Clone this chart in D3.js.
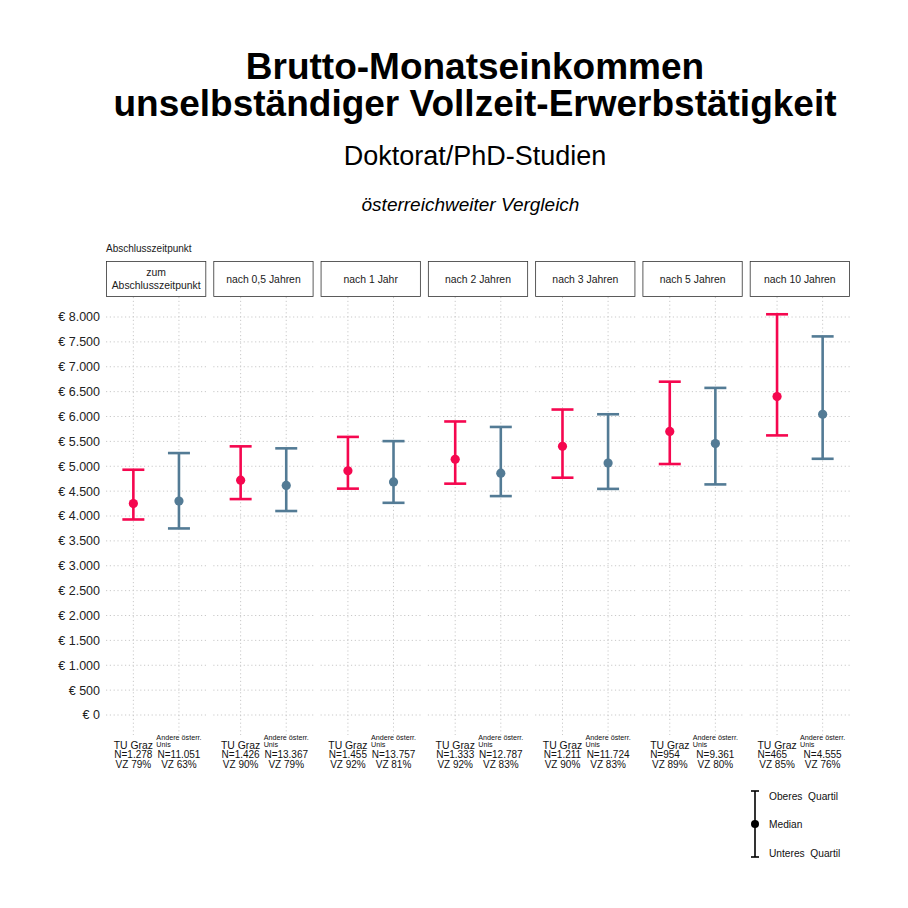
<!DOCTYPE html>
<html>
<head>
<meta charset="utf-8">
<script src="https://cdn.jsdelivr.net/npm/d3@7"></script>
<style>
  html, body { margin: 0; padding: 0; background: #fff; }
  svg { display: block; font-family: "Liberation Sans", Arial, sans-serif; }
</style>
</head>
<body>
<svg id="chart" width="908" height="908"></svg>
<script>
// ---- data ----
const zeitpunkte = ["zum\nAbschlusszeitpunkt", "nach 0,5 Jahren", "nach 1 Jahr", "nach 2 Jahren", "nach 3 Jahren", "nach 5 Jahren", "nach 10 Jahren"];
const gruppen = ["TU Graz", "Andere österr. Unis"];
const tuMedian = [4250, 4720, 4910, 5140, 5400, 5700, 6400];
const tuQ1     = [3930, 4340, 4550, 4650, 4770, 5045, 5620];
const tuQ3     = [4930, 5400, 5590, 5900, 6140, 6700, 8055];
const andMedian = [4300, 4615, 4685, 4860, 5065, 5455, 6045];
const andQ1     = [3750, 4100, 4265, 4400, 4545, 4635, 5150];
const andQ3     = [5265, 5360, 5505, 5790, 6045, 6575, 7610];
const tuN  = ["1.278", "1.426", "1.455", "1.333", "1.211", "954", "465"];
const tuVZ = [79, 90, 92, 92, 90, 89, 85];
const andN  = ["11.051", "13.367", "13.757", "12.787", "11.724", "9.361", "4.555"];
const andVZ = [63, 79, 81, 83, 83, 80, 76];
const yTicks = d3.range(0, 8001, 500);
const farben = ["#f5074f", "#537b95"];

// ---- layout ----
const svg = d3.select("#chart");
const panelTop = 297, panelBottom = 735;
const stripTop = 261, stripBottom = 297;

const deLocale = d3.formatLocale({decimal: ",", thousands: ".", grouping: [3], currency: ["€ ", ""]});
const fmtEuro = v => "€ " + deLocale.format(",")(v);

const xPanel = d3.scaleBand().domain(d3.range(zeitpunkte.length)).range([106, 850]).paddingInner(0.065);
const xIn = d3.scalePoint().domain(gruppen).range([0, xPanel.bandwidth()]).padding(0.6);
const y = d3.scaleLinear().domain([0, 8000]).range([715, 317]);

// titles
svg.append("text").attr("x", 475).attr("y", 79).attr("text-anchor", "middle")
  .attr("font-size", 37).attr("font-weight", "bold").text("Brutto-Monatseinkommen");
svg.append("text").attr("x", 475).attr("y", 116).attr("text-anchor", "middle")
  .attr("font-size", 37).attr("font-weight", "bold").text("unselbständiger Vollzeit-Erwerbstätigkeit");
svg.append("text").attr("x", 475).attr("y", 165).attr("text-anchor", "middle")
  .attr("font-size", 27).text("Doktorat/PhD-Studien");
svg.append("text").attr("x", 470.5).attr("y", 211).attr("text-anchor", "middle")
  .attr("font-size", 19).attr("font-style", "italic").text("österreichweiter Vergleich");

svg.append("text").attr("x", 106).attr("y", 252).attr("font-size", 10).attr("fill", "#1a1a1a")
  .text("Abschlusszeitpunkt");

// y axis labels
svg.append("g").selectAll("text").data(yTicks).join("text")
  .attr("x", 100).attr("y", d => y(d)).attr("dy", "0.35em")
  .attr("text-anchor", "end").attr("font-size", 12.5).attr("fill", "#222")
  .text(fmtEuro);

// panels
const rows = zeitpunkte.map((z, i) => ({
  i, z,
  g: [
    {name: gruppen[0], med: tuMedian[i], q1: tuQ1[i], q3: tuQ3[i], n: tuN[i], vz: tuVZ[i], col: farben[0]},
    {name: gruppen[1], med: andMedian[i], q1: andQ1[i], q3: andQ3[i], n: andN[i], vz: andVZ[i], col: farben[1]}
  ]
}));

const panels = svg.append("g").selectAll("g.panel").data(rows).join("g")
  .attr("class", "panel")
  .attr("transform", d => `translate(${xPanel(d.i)},0)`);

const bw = xPanel.bandwidth();

// strip
panels.append("rect").attr("x", 0.5).attr("y", stripTop + 0.5).attr("width", bw - 1).attr("height", stripBottom - stripTop - 1)
  .attr("fill", "#fff").attr("stroke", "#333").attr("stroke-width", 0.8);
panels.each(function(d) {
  const lines = d.z.split("\n");
  const g = d3.select(this);
  const mid = (stripTop + stripBottom) / 2;
  const lh = 13;
  lines.forEach((l, k) => {
    g.append("text").attr("x", bw / 2).attr("y", mid + (k - (lines.length - 1) / 2) * lh)
      .attr("dy", "0.35em").attr("text-anchor", "middle").attr("font-size", 10.4).attr("fill", "#1a1a1a").text(l);
  });
});

// gridlines
panels.append("g").selectAll("line").data(yTicks).join("line")
  .attr("x1", 0).attr("x2", bw).attr("y1", d => y(d)).attr("y2", d => y(d))
  .attr("stroke", "#c9c9c9").attr("stroke-width", 1).attr("stroke-dasharray", "1.2,2.6");
panels.append("g").selectAll("line").data(gruppen).join("line")
  .attr("x1", d => xIn(d)).attr("x2", d => xIn(d)).attr("y1", panelTop).attr("y2", panelBottom)
  .attr("stroke", "#c9c9c9").attr("stroke-width", 1).attr("stroke-dasharray", "1.2,2.6");

// error bars
const capW = 11;
const bars = panels.append("g").selectAll("g").data(d => d.g).join("g")
  .attr("transform", d => `translate(${xIn(d.name)},0)`);
bars.append("line").attr("x1", 0).attr("x2", 0).attr("y1", d => y(d.q1)).attr("y2", d => y(d.q3))
  .attr("stroke", d => d.col).attr("stroke-width", 2.6);
bars.append("line").attr("x1", -capW).attr("x2", capW).attr("y1", d => y(d.q3)).attr("y2", d => y(d.q3))
  .attr("stroke", d => d.col).attr("stroke-width", 2.6);
bars.append("line").attr("x1", -capW).attr("x2", capW).attr("y1", d => y(d.q1)).attr("y2", d => y(d.q1))
  .attr("stroke", d => d.col).attr("stroke-width", 2.6);
bars.append("circle").attr("cx", 0).attr("cy", d => y(d.med)).attr("r", 4.6).attr("fill", d => d.col);

// x labels
const fs = 10;
const labs = panels.append("g").selectAll("g").data(d => d.g).join("g")
  .attr("transform", d => `translate(${xIn(d.name)},0)`);
labs.each(function(d) {
  const g = d3.select(this);
  const nTxt = g.append("text").attr("y", 758).attr("font-size", fs).attr("fill", "#111")
    .attr("text-anchor", "middle").text("N=" + d.n);
  g.append("text").attr("y", 767.8).attr("font-size", fs).attr("fill", "#111")
    .attr("text-anchor", "middle").text("VZ " + d.vz + "%");
  if (d.name === "TU Graz") {
    const t = g.append("text").attr("y", 748.6).attr("font-size", 10.4).attr("fill", "#111")
      .attr("text-anchor", "middle").text("TU Graz");
    const tw = t.node().getComputedTextLength();
    const nw = nTxt.node().getComputedTextLength();
    if (nw < tw - 8) nTxt.attr("text-anchor", "start").attr("x", -tw / 2);
  } else {
    const parts = ["Andere österr.", "Unis"];
    const t1 = g.append("text").attr("y", 740).attr("font-size", 7.2).attr("fill", "#111")
      .attr("text-anchor", "middle").text(parts[0]);
    const w = t1.node().getComputedTextLength();
    g.append("text").attr("x", -w / 2).attr("y", 746.8).attr("font-size", 7.2).attr("fill", "#111").text(parts[1]);
  }
});

// legend
const lg = svg.append("g").attr("transform", "translate(755,0)");
lg.append("line").attr("x1", 0).attr("x2", 0).attr("y1", 791).attr("y2", 857).attr("stroke", "#000").attr("stroke-width", 1.6);
lg.append("line").attr("x1", -4).attr("x2", 4).attr("y1", 791).attr("y2", 791).attr("stroke", "#000").attr("stroke-width", 1.6);
lg.append("line").attr("x1", -4).attr("x2", 4).attr("y1", 857).attr("y2", 857).attr("stroke", "#000").attr("stroke-width", 1.6);
lg.append("circle").attr("cx", 0).attr("cy", 824).attr("r", 4).attr("fill", "#000");
const legTexts = [["Oberes  Quartil", 796], ["Median", 824], ["Unteres  Quartil", 853]];
lg.selectAll("text.l").data(legTexts).join("text").attr("class", "l")
  .attr("x", 14).attr("y", d => d[1]).attr("dy", "0.35em").attr("font-size", 10.2).attr("fill", "#111")
  .attr("xml:space", "preserve").style("white-space", "pre").text(d => d[0]);
</script>
</body>
</html>
